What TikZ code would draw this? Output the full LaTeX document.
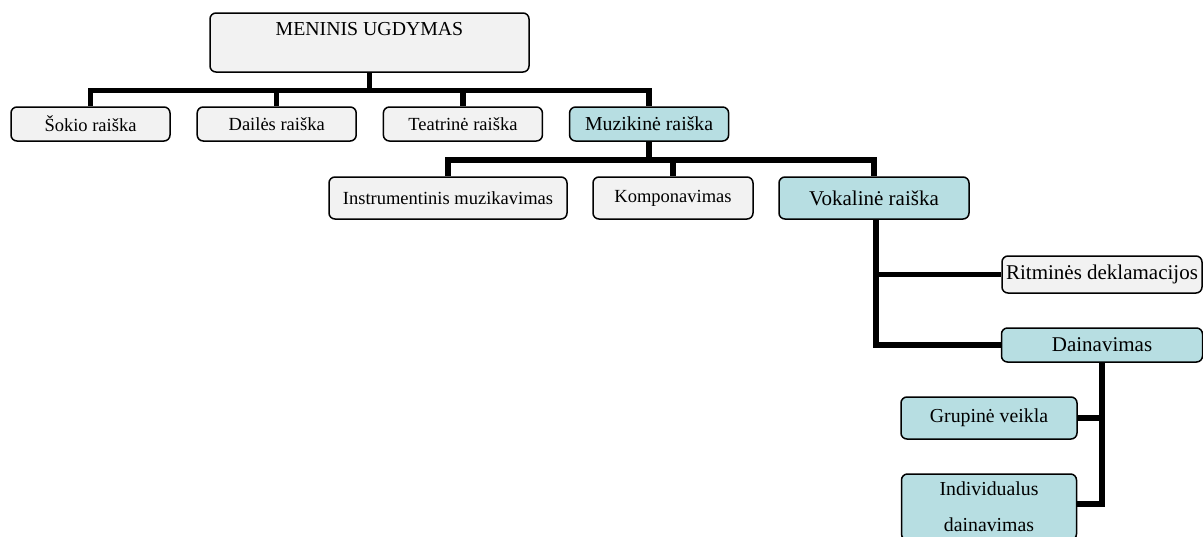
\documentclass[tikz,border=0pt]{standalone}
\usepackage{fontspec}
\setmainfont{Liberation Serif}
\usepackage{tikz}
\usetikzlibrary{positioning}
\definecolor{boxgray}{HTML}{F2F2F2}
\definecolor{boxteal}{HTML}{B7DEE2}

\begin{document}
\begin{tikzpicture}[x=1pt, y=1pt, node distance=186.2pt,
	box/.style={draw, line width=1.5pt, rounded corners=6pt, fill=boxgray, inner sep=2pt},
	sel/.style={box, fill=boxteal},
	link/.style={line width=5.5pt},
	fa/.style={font=\fontsize{18.5}{22}\selectfont},
	fb/.style={font=\fontsize{19.8}{24}\selectfont},
	fc/.style={font=\fontsize{21}{25}\selectfont}]
	
	\useasboundingbox (0,0) rectangle (1203,-536);
	\clip (0,0) rectangle (1203,-536);
	
	% Boxes
	\node[box, fb, minimum width=319pt, text height=14pt, text depth=29pt, inner ysep=8pt] (root) at (369.5,-42.5) {MENINIS UGDYMAS};
	\node[box, fa, minimum width=159pt, minimum height=34pt] (sokio) at (90.5,-124) {Šokio raiška};
	\node[box, fa, minimum width=159pt, minimum height=34pt, right of=sokio] (dailes) {Dailės raiška};
	\node[box, fa, minimum width=159pt, minimum height=34pt, right of=dailes] (teatr) {Teatrinė raiška};
	\node[sel, fb, minimum width=159pt, minimum height=34pt, right of=teatr] (muzik) {Muzikinė raiška};
	\node[box, fa, minimum width=238pt, minimum height=42pt] (instr) at (448,-198) {Instrumentinis muzikavimas};
	\node[box, fa, minimum width=160pt, minimum height=42pt, right of=instr, node distance=225pt] (kompon) {Komponavimas};
	\node[sel, fc, minimum width=190pt, minimum height=42pt, right of=kompon, node distance=201pt] (vokal) {Vokalinė raiška};
	\node[box, fc, minimum width=200pt, minimum height=37pt] (ritm) at (1102,-274.5) {Ritminės deklamacijos};
	\node[sel, fc, minimum width=201pt, minimum height=34pt, below of=ritm, node distance=70.5pt] (dain) {Dainavimas};
	\node[sel, fb, minimum width=176pt, minimum height=42pt] (grup) at (989,-418) {Grupinė veikla};
	\node[sel, minimum width=175pt, minimum height=66pt, align=center, font=\fontsize{19.8}{36}\selectfont, below of=grup, node distance=89pt] (indiv) {Individualus\\dainavimas};
	
	% Lines
	\draw[link] (root.south) -- ++(0,-17.5) -| (sokio.north);
	\draw[link] (root.south) -- ++(0,-17.5) -| (dailes.north);
	\draw[link] (root.south) -- ++(0,-17.5) -| (teatr.north);
	\draw[link] (root.south) -- ++(0,-17.5) -| (muzik.north);
	\draw[link] (muzik.south) -- ++(0,-18) -| (instr.north);
	\draw[link] (muzik.south) -- ++(0,-18) -| (kompon.north);
	\draw[link] (muzik.south) -- ++(0,-18) -| (vokal.north);
	\draw[link] ([xshift=2pt]vokal.south) |- (ritm.west);
	\draw[link] ([xshift=2pt]vokal.south) |- (dain.west);
	\draw[link] (dain.south) |- (grup.east);
	\draw[link] (dain.south) |- ([yshift=3pt]indiv.east);
	
\end{tikzpicture}
\end{document}
